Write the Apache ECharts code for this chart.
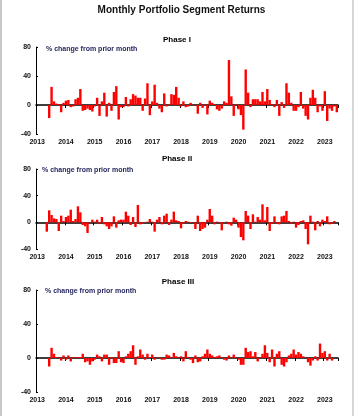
<!DOCTYPE html>
<html>
<head>
<meta charset="utf-8">
<script src="https://cdn.jsdelivr.net/npm/echarts@6/dist/echarts.min.js"></script>
<style>html,body{margin:0;padding:0;background:#fff}#c{width:355px;height:416px}</style>
</head>
<body>
<div id="c"></div>
<script>
// ---- data ----
const years = ['2013','2014','2015','2016','2017','2018','2019','2020','2021','2022','2023'];
const lastYearMonths = 6; // axis runs to mid-2023
const yTicks = [-40, 0, 40, 80];

const phaseTitles = ['Phase I', 'Phase II', 'Phase III'];
const unitLabel = '% change from prior month';
const mainTitle = 'Monthly Portfolio Segment Returns';

// Phase I monthly % change, starting 2013-06
const phase1Start = 5;
const phase1 = [-18,25,5,2,1,-10,3,6,7,-3,-2,8,10,22,-8,-7,-5,-7,-9,-2,10,-15,5,17,-16,3,-8,18,26,-20,
  -3,-3,11,-2,8,15,13,10,10,-8,9,30,-14,5,28,3,-5,-10,16,-2,1,15,14,25,10,-2,5,-3,
  -2,3,0.5,-1,-12,3,-4,1,-13,6,3,1,-6,-8,-5,5,3,62,12,-15,1,-6,-14,-34,49,17,-3,8,8,8,5,18,5,22,7,1,
  -3,7,-15,4,-4,30,17,3,-8,-8,-3,18,-5,-15,-20,10,21,10,-10,-2,-8,19,-22,-5,-8,-2,-10];

// Phase II monthly % change, starting 2013-05
const phase2Start = 4;
const phase2 = [-14,18,11,6,5,-13,10,2,8,10,19,2,5,24,15,-4,-6,-16,0.5,4,1,4,-2,8,-3,-6,-10,-6,9,-8,3,4,
  4,16,10,-4,8,-7,26,-3,-2,0.5,1,5,1,-14,4,8,-3,10,13,-4,4,16,3,2,-9,-2,2,1,-1,0.5,-10,10,-13,-10,-8,4,
  20,10,-3,1,-1,-12,0.5,1,-3,-5,7,4,-8,-22,-27,17,10,-10,12,1,8,4,27,3,23,-13,-2,9,-2,-3,9,10,17,2,-2,
  1,-8,-4,2,3,-10,-33,10,1,-12,2,-6,4,2,9,-3,-2,2];

// Phase III monthly % change, starting 2013-06
const phase3Start = 5;
const phase3 = [-10,12,5,1,0.5,-3,3,-2,3,-4,1,1,1,1,5,-5,-4,-8,-4,-2,4,2,-4,4,4,-8,1,-6,-6,8,-5,-6,2,5,8,
  15,-8,2,10,4,-2,5,1,4,-2,0.5,0.5,-2,-2,4,3,1,6,2,0.5,2,-4,8,1,-2,-6,3,-5,-4,2,5,10,5,3,1,2,3,0.5,-2,-3,
  3,0.5,4,0.5,-2,-8,-8,12,7,8,2,7,-4,0.5,5,15,6,-5,10,-10,5,8,-8,-10,-5,3,5,10,4,7,5,2,0.5,-5,-9,-3,2,-3,
  17,6,8,-3,5,-3];

// ---- build ----
const months = [];
years.forEach((y, i) => {
  const n = i === years.length - 1 ? lastYearMonths : 12;
  for (let m = 1; m <= n; m++) months.push(y + '-' + String(m).padStart(2, '0'));
});
function align(start, vals) {
  const d = months.map(() => '-');
  vals.forEach((v, i) => { if (start + i < d.length) d[start + i] = v; });
  return d;
}
const seriesData = [align(phase1Start, phase1), align(phase2Start, phase2), align(phase3Start, phase3)];

const FONT = '"Liberation Sans Narrow","Arial Narrow","Liberation Sans",Arial,sans-serif';
const grids = [
  {left: 36, width: 302, top: 47, height: 87},
  {left: 36, width: 302, top: 169, height: 80},
  {left: 36, width: 302, top: 290, height: 102}
];
const phaseTitlePos = [[177, 39.5], [177, 158.5], [178, 282]];
const unitPos = [[46, 49.5], [42, 170.5], [45, 291.5]];

const xAxes = [], yAxes = [], series = [], graphics = [];
grids.forEach((g, i) => {
  xAxes.push({
    type: 'category', gridIndex: i, data: months, position: 'top', boundaryGap: true,
    axisLine: {onZero: true, lineStyle: {color: '#000', width: 1.5}},
    axisTick: {show: true, inside: true, length: 3, interval: idx => idx % 12 === 0, lineStyle: {color: '#000'}},
    axisLabel: {show: false}, splitLine: {show: false}
  });
  xAxes.push({
    type: 'category', gridIndex: i, data: months, position: 'bottom', boundaryGap: true,
    axisLine: {show: false, onZero: false}, axisTick: {show: false}, splitLine: {show: false},
    axisLabel: {interval: idx => idx % 12 === 0, formatter: v => v.slice(0, 4), margin: 5,
      fontSize: 7, fontWeight: 'bold', color: '#111', fontFamily: FONT}
  });
  yAxes.push({
    type: 'value', gridIndex: i, min: yTicks[0], max: yTicks[yTicks.length - 1], interval: 40,
    axisLine: {show: true, lineStyle: {color: '#000', width: 1}},
    axisTick: {show: true, inside: true, length: 2, lineStyle: {color: '#000'}},
    axisLabel: {margin: 5, fontSize: 7, fontWeight: 'bold', color: '#111', fontFamily: FONT},
    splitLine: {show: false}
  });
  series.push({
    type: 'bar', xAxisIndex: i * 2, yAxisIndex: i, data: seriesData[i],
    barCategoryGap: '0%', itemStyle: {color: '#FF0000'}, animation: false, silent: true
  });
  graphics.push({type: 'text', silent: true, style: {x: phaseTitlePos[i][0], y: phaseTitlePos[i][1], text: phaseTitles[i],
    align: 'center', verticalAlign: 'middle', font: 'bold 8px ' + FONT, fill: '#000'}});
  graphics.push({type: 'text', silent: true, style: {x: unitPos[i][0], y: unitPos[i][1], text: unitLabel,
    align: 'left', verticalAlign: 'middle', font: 'bold 7px ' + FONT, fill: '#26265e'}});
});
graphics.push({type: 'text', silent: true, style: {x: 181.5, y: 10, text: mainTitle, align: 'center',
  verticalAlign: 'middle', font: 'bold 10px ' + FONT, fill: '#111'}});
graphics.push({type: 'line', silent: true, shape: {x1: 1, y1: 0, x2: 1, y2: 416}, style: {stroke: '#c8c8c8', lineWidth: 2}});
graphics.push({type: 'line', silent: true, shape: {x1: 353, y1: 0, x2: 353, y2: 416}, style: {stroke: '#c8c8c8', lineWidth: 1.5}});

const chart = echarts.init(document.getElementById('c'), null, {renderer: 'canvas'});
chart.setOption({
  backgroundColor: '#fff', animation: false,
  grid: grids, xAxis: xAxes, yAxis: yAxes, series: series, graphic: graphics
});
</script>
</body>
</html>
